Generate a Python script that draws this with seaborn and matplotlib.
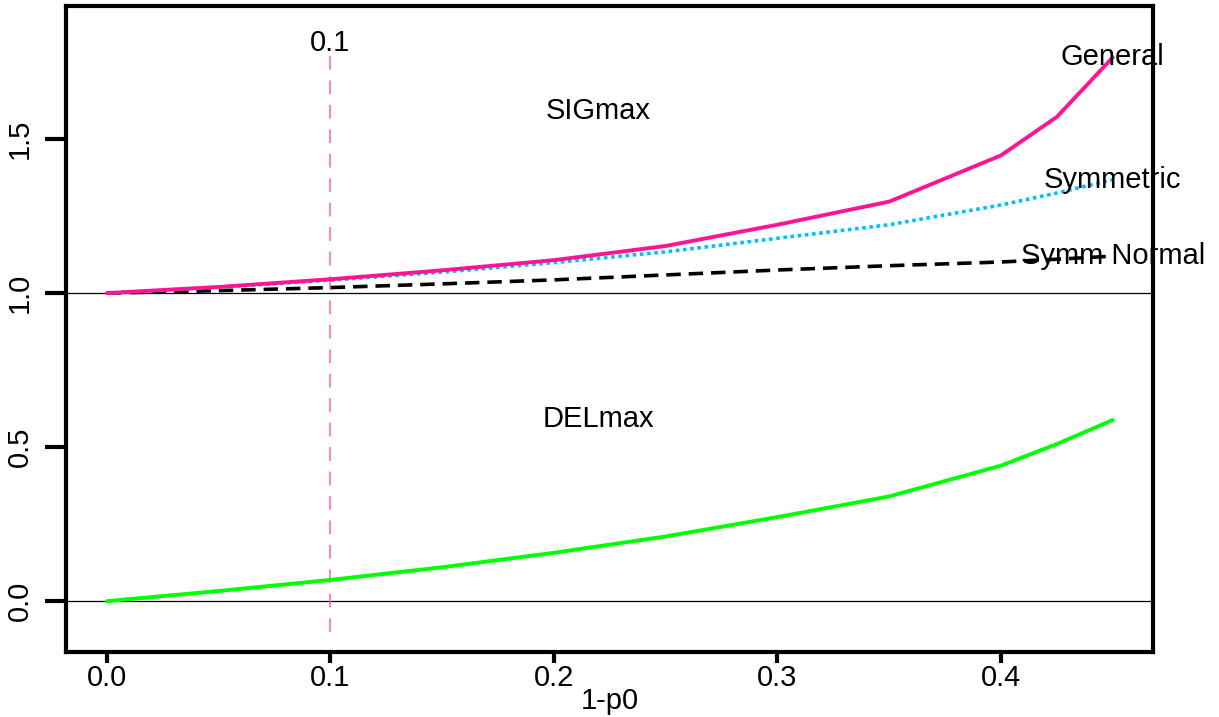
import matplotlib
matplotlib.use("Agg")
import matplotlib.pyplot as plt
import pandas as pd
import seaborn as sns

# Values
p = [0.0, 0.05, 0.10, 0.15, 0.20, 0.25, 0.30, 0.35, 0.40, 0.425, 0.45]
general = [1.0, 1.020, 1.045, 1.074, 1.107, 1.153, 1.222, 1.297, 1.447, 1.572, 1.765]
symmetric = [1.0, 1.019, 1.042, 1.068, 1.099, 1.134, 1.178, 1.222, 1.286, 1.325, 1.368]
symm_normal = [1.0, 1.008, 1.018, 1.030, 1.043, 1.059, 1.075, 1.089, 1.101, 1.110, 1.120]
delmax = [0.0, 0.033, 0.069, 0.110, 0.157, 0.210, 0.273, 0.340, 0.440, 0.510, 0.588]

cut = 0.1
cut_range = [-0.1, 1.8]
xticks = [0.0, 0.1, 0.2, 0.3, 0.4]
yticks = [0.0, 0.5, 1.0, 1.5]

df = pd.DataFrame({'p': p, 'General': general, 'Symmetric': symmetric,
                   'Symm Normal': symm_normal, 'DELmax': delmax})

sns.set_style('ticks', {'axes.edgecolor': 'black', 'text.color': 'black',
                        'axes.labelcolor': 'black', 'xtick.color': 'black',
                        'ytick.color': 'black'})
plt.rcParams['font.family'] = ['Liberation Sans', 'DejaVu Sans']
plt.rcParams['font.size'] = 21

fig = plt.figure(figsize=(12.19, 7.17), dpi=100)
ax = fig.add_axes([66 / 1219, 65 / 717, 1087 / 1219, 646 / 717])

# reference lines
ax.axhline(0, color='black', lw=0.9, zorder=1)
ax.axhline(1, color='black', lw=0.9, zorder=1)
ax.plot([cut, cut], cut_range, color='#FF5FA8', lw=1.1, linestyle=(0, (9, 7)), zorder=1)
ax.text(cut, 1.787, '0.1', ha='center', va='baseline')

sns.lineplot(data=df, x='p', y='Symm Normal', color='black', lw=2.6,
             linestyle=(0, (4, 2.2)), ax=ax)
sns.lineplot(data=df, x='p', y='Symmetric', color='#00BFFF', lw=2.6,
             linestyle=(0, (1, 1)), ax=ax)
sns.lineplot(data=df, x='p', y='General', color='#FF1493', lw=2.8,
             solid_capstyle='round', ax=ax)
sns.lineplot(data=df, x='p', y='DELmax', color='#00FF00', lw=2.8,
             solid_capstyle='round', ax=ax)

# curve labels at the end points
ax.text(p[-1], general[-1], 'General', ha='center', va='center')
ax.text(p[-1], symmetric[-1], 'Symmetric', ha='center', va='center')
ax.text(p[-1], symm_normal[-1], 'Symm Normal', ha='center', va='center')
ax.text(0.22, 1.59, 'SIGmax', ha='center', va='center')
ax.text(0.22, 0.59, 'DELmax', ha='center', va='center')

ax.set_xlim(-0.0183, 0.4680)
ax.set_ylim(-0.165, 1.932)
ax.set_xticks(xticks)
ax.set_xticklabels([f'{t:.1f}' for t in xticks])
ax.set_yticks(yticks)
ax.set_yticklabels([f'{t:.1f}' for t in yticks], rotation=90, va='center')
ax.tick_params(axis='x', length=8, width=3, pad=1, labelsize=21)
ax.tick_params(axis='y', length=15, width=3, pad=8, labelsize=21)
for s in ax.spines.values():
    s.set_linewidth(3)
    s.set_visible(True)
ax.set_xlabel('1-p0', labelpad=-4)
ax.set_ylabel('')

fig.savefig('out.png', dpi=100)
